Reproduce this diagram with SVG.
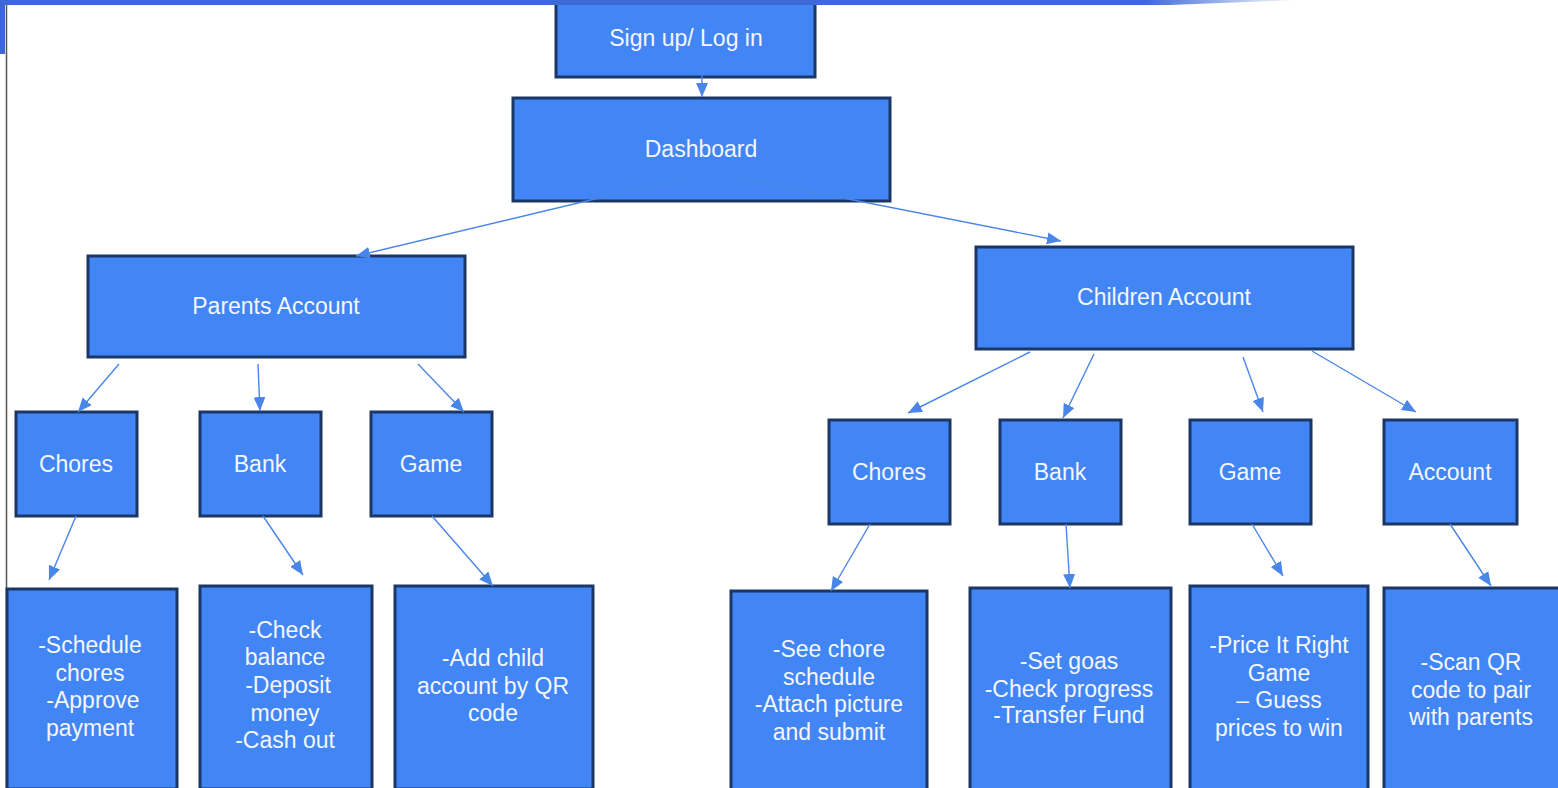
<svg xmlns="http://www.w3.org/2000/svg" width="1558" height="788" viewBox="0 0 1558 788">
<style>
.box{fill:#4285f4;stroke:#1b3766;stroke-width:3}
.t{font-family:"Liberation Sans",Arial,sans-serif;font-size:23px;fill:#f4f7ff;text-anchor:middle}
.c{stroke:#4a86e8;stroke-width:1.4;fill:none;marker-end:url(#ah)}
.ci{stroke:#6b9cf0;stroke-width:1.2;fill:none}
</style>
<defs>
<marker id="ah" markerUnits="userSpaceOnUse" markerWidth="15" markerHeight="15" viewBox="0 0 15 15" refX="14" refY="7.5" orient="auto">
<path d="M0,1.5 L14,7.5 L0,13.5 Z" fill="#4a86e8"/>
</marker>
<linearGradient id="bar" x1="0" y1="0" x2="1" y2="0">
<stop offset="0" stop-color="#3d69d6"/>
<stop offset="0.88" stop-color="#3d69d6"/>
<stop offset="1" stop-color="#3d69d6" stop-opacity="0"/>
</linearGradient>
</defs>
<rect width="1558" height="788" fill="#ffffff"/>
<rect x="0" y="0" width="5" height="54" fill="#3d69d6"/>
<line x1="6.5" y1="5" x2="6.5" y2="788" stroke="#555" stroke-width="1.5"/>
<g id="n-signup"><rect class="box" x="556" y="-2" width="259" height="79"/><text class="t" x="686" y="46">Sign up/ Log in</text></g>
<path d="M0,0 H1300 L1170,5 H0 Z" fill="url(#bar)"/>
<g id="n-dashboard"><rect class="box" x="513" y="98" width="377" height="103"/><text class="t" x="701" y="157">Dashboard</text></g>
<g id="n-parents"><rect class="box" x="88" y="256" width="377" height="101"/><text class="t" x="276" y="314">Parents Account</text></g>
<g id="n-children"><rect class="box" x="976" y="247" width="377" height="102"/><text class="t" x="1164" y="305">Children Account</text></g>
<g id="n-p-chores"><rect class="box" x="16" y="412" width="121" height="104"/><text class="t" x="76" y="472">Chores</text></g>
<g id="n-p-bank"><rect class="box" x="200" y="412" width="121" height="104"/><text class="t" x="260" y="472">Bank</text></g>
<g id="n-p-game"><rect class="box" x="371" y="412" width="121" height="104"/><text class="t" x="431" y="472">Game</text></g>
<g id="n-c-chores"><rect class="box" x="829" y="420" width="121" height="104"/><text class="t" x="889" y="480">Chores</text></g>
<g id="n-c-bank"><rect class="box" x="1000" y="420" width="121" height="104"/><text class="t" x="1060" y="480">Bank</text></g>
<g id="n-c-game"><rect class="box" x="1190" y="420" width="121" height="104"/><text class="t" x="1250" y="480">Game</text></g>
<g id="n-c-account"><rect class="box" x="1384" y="420" width="133" height="104"/><text class="t" x="1450" y="480">Account</text></g>
<g id="n-p-chores-d"><rect class="box" x="7" y="589" width="170" height="200"/>
<text class="t" x="90" y="653">-Schedule</text><text class="t" x="90" y="681">chores</text><text class="t" x="93" y="708">-Approve</text><text class="t" x="90" y="736">payment</text></g>
<g id="n-p-bank-d"><rect class="box" x="200" y="586" width="172" height="203"/>
<text class="t" x="285" y="638">-Check</text><text class="t" x="285" y="665">balance</text><text class="t" x="288" y="693">-Deposit</text><text class="t" x="285" y="721">money</text><text class="t" x="285" y="748">-Cash out</text></g>
<g id="n-p-game-d"><rect class="box" x="395" y="586" width="198" height="203"/>
<text class="t" x="493" y="666">-Add child</text><text class="t" x="493" y="694">account by QR</text><text class="t" x="493" y="721">code</text></g>
<g id="n-c-chores-d"><rect class="box" x="731" y="591" width="196" height="200"/>
<text class="t" x="829" y="657">-See chore</text><text class="t" x="829" y="685">schedule</text><text class="t" x="829" y="712">-Attach picture</text><text class="t" x="829" y="740">and submit</text></g>
<g id="n-c-bank-d"><rect class="box" x="970" y="588" width="201" height="203"/>
<text class="t" x="1069" y="669">-Set goas</text><text class="t" x="1069" y="697">-Check progress</text><text class="t" x="1069" y="723">-Transfer Fund</text></g>
<g id="n-c-game-d"><rect class="box" x="1190" y="586" width="178" height="205"/>
<text class="t" x="1279" y="653">-Price It Right</text><text class="t" x="1279" y="681">Game</text><text class="t" x="1279" y="708">– Guess</text><text class="t" x="1279" y="736">prices to win</text></g>
<g id="n-c-account-d"><rect class="box" x="1384" y="588" width="180" height="203"/>
<text class="t" x="1471" y="670">-Scan QR</text><text class="t" x="1471" y="698">code to pair</text><text class="t" x="1471" y="725">with parents</text></g>
<g id="connectors">
<line class="c" x1="702" y1="66" x2="702" y2="97"/>
<line class="c" x1="687" y1="177" x2="356" y2="256"/>
<line class="c" x1="737" y1="177" x2="1061" y2="241"/>
<line class="c" x1="119" y1="364" x2="78" y2="412"/>
<line class="c" x1="258" y1="364" x2="260" y2="411"/>
<line class="c" x1="418" y1="364" x2="464" y2="412"/>
<line class="c" x1="76" y1="516" x2="49" y2="580"/>
<line class="c" x1="263" y1="516" x2="303" y2="575"/>
<line class="c" x1="432" y1="516" x2="493" y2="586"/>
<line class="c" x1="1030" y1="352" x2="908" y2="413"/>
<line class="c" x1="1094" y1="354" x2="1063" y2="418"/>
<line class="c" x1="1243" y1="357" x2="1263" y2="412"/>
<line class="c" x1="1312" y1="351" x2="1416" y2="412"/>
<line class="c" x1="870" y1="524" x2="831" y2="591"/>
<line class="c" x1="1066" y1="524" x2="1070" y2="588"/>
<line class="c" x1="1252" y1="524" x2="1283" y2="576"/>
<line class="c" x1="1450" y1="524" x2="1491" y2="586"/>
</g>
</svg>
